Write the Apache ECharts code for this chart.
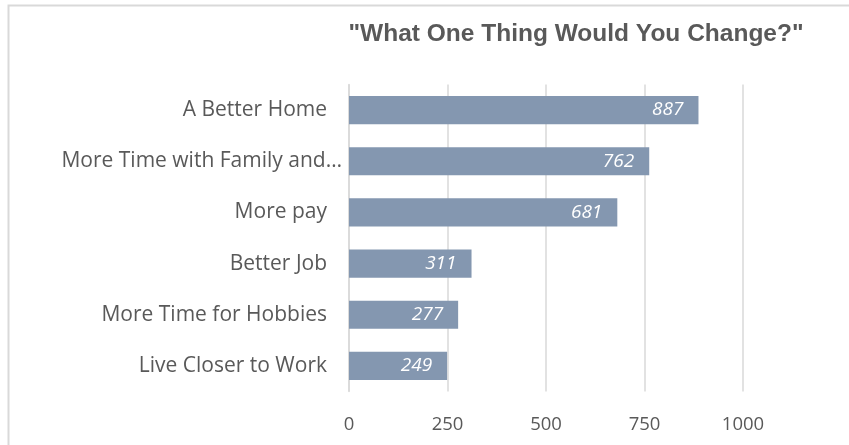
<!DOCTYPE html>
<html><head><meta charset="utf-8">
<script src="https://cdn.jsdelivr.net/npm/echarts@6/dist/echarts.min.js"></script>
<style>html,body{margin:0;padding:0;background:#fff}#c{width:849px;height:445px}</style>
</head><body><div id="c"></div>
<script>
const categories = ["Live Closer to Work","More Time for Hobbies","Better Job","More pay","More Time with Family and…","A Better Home"];
const values = [249, 277, 311, 681, 762, 887];
const xTicks = [0, 250, 500, 750, 1000];
const titleText = '"What One Thing Would You Change?"';

const chart = echarts.init(document.getElementById('c'), null, {renderer:'canvas'});
chart.setOption({
  animation:false,
  backgroundColor:'#fff',
  title:{text:titleText,left:571,top:17,textAlign:'center',
    textStyle:{fontFamily:'Liberation Sans',fontWeight:'bold',fontSize:24.5,color:'#595959'}},
  graphic:[{type:'rect',shape:{x:8.5,y:5.5,width:1000,height:1000},style:{fill:'none',stroke:'#d9d9d9',lineWidth:2},silent:true}],
  grid:{left:349,right:106,top:84.5,bottom:53.5,containLabel:false},
  xAxis:{type:'value',min:xTicks[0],max:xTicks[xTicks.length-1],interval:250,
    axisLine:{show:false},axisTick:{show:false},
    splitLine:{lineStyle:{color:'#d9d9d9',width:1.5}},
    axisLabel:{margin:24,fontFamily:'Open Sans',fontSize:18.5,color:'#595959',
      formatter:v=>xTicks.includes(v)?String(v):''}},
  yAxis:{type:'category',
    data:categories.map(c=>c.endsWith('…')?{value:c,textStyle:{padding:[0,-15,0,0]}}:c),
    axisLine:{show:true,lineStyle:{color:'#d9d9d9',width:1.5}},axisTick:{show:false},
    axisLabel:{margin:22,fontFamily:'Open Sans',fontSize:21,color:'#595959'}},
  series:[{type:'bar',data:values,barCategoryGap:'45%',
    itemStyle:{color:'#8497b0'},
    label:{show:true,position:'insideRight',distance:15,color:'#fff',fontStyle:'italic',
      fontFamily:'Open Sans',fontSize:19}}]
});
</script></body></html>
